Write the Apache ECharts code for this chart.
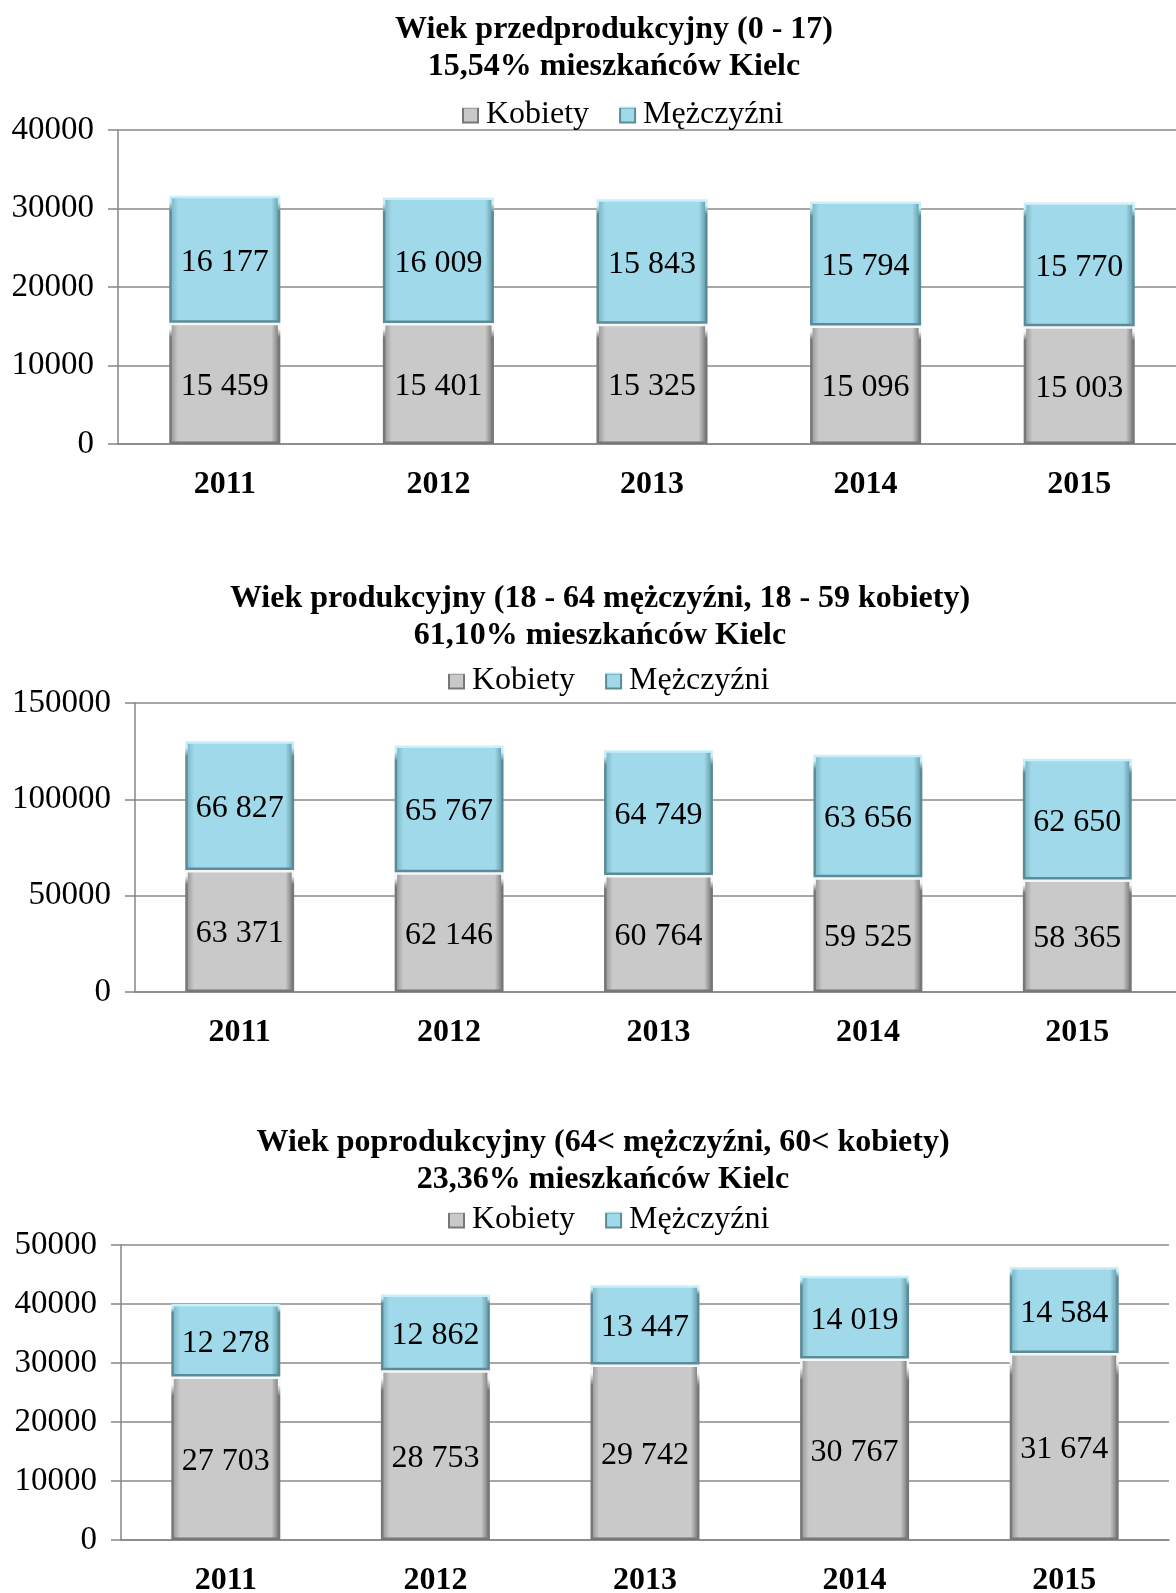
<!DOCTYPE html>
<html>
<head>
<meta charset="utf-8">
<script src="https://cdn.jsdelivr.net/npm/echarts@6/dist/echarts.min.js"></script>
<style>
  html, body { margin: 0; padding: 0; background: #fff; overflow: hidden; }
  #chart { width: 1200px; height: 1593px; }
</style>
</head>
<body>
<div id="chart"></div>
<script>
const years = ['2011', '2012', '2013', '2014', '2015'];

// wiek przedprodukcyjny
const preKobiety = [15459, 15401, 15325, 15096, 15003];
const preMezczyzni = [16177, 16009, 15843, 15794, 15770];
// wiek produkcyjny
const prodKobiety = [63371, 62146, 60764, 59525, 58365];
const prodMezczyzni = [66827, 65767, 64749, 63656, 62650];
// wiek poprodukcyjny
const postKobiety = [27703, 28753, 29742, 30767, 31674];
const postMezczyzni = [12278, 12862, 13447, 14019, 14584];

const titles = [
  ['Wiek przedprodukcyjny (0 - 17)', '15,54% mieszkańców Kielc'],
  ['Wiek produkcyjny (18 - 64 mężczyźni, 18 - 59 kobiety)', '61,10% mieszkańców Kielc'],
  ['Wiek poprodukcyjny (64< mężczyźni, 60< kobiety)', '23,36% mieszkańców Kielc'],
];
const yMax = [40000, 150000, 50000];
const yStep = [10000, 50000, 10000];

const FONT = '"Liberation Serif", "Times New Roman", serif';

// layout of the three panels (plot areas run past the right page edge)
const grids = [
  { left: 118, top: 130, width: 1068, height: 314, outerBoundsMode: 'none' },
  { left: 135, top: 703, width: 1047, height: 289, outerBoundsMode: 'none' },
  { left: 121, top: 1245, width: 1048, height: 295, outerBoundsMode: 'none' },
];
const titleX = [614, 600, 603];
const titleY = [[30, 67], [599, 636], [1143, 1180]];
const legendLeft = [457, 443, 443];
const legendY = [94, 660, 1199];

const grad = (edgeL, mid, edgeR) => new echarts.graphic.LinearGradient(0, 0, 1, 0, [
  { offset: 0, color: edgeL },
  { offset: 0.08, color: mid },
  { offset: 0.92, color: mid },
  { offset: 1, color: edgeR },
]);
const borderGrad = (top, bottom) => new echarts.graphic.LinearGradient(0, 0, 0, 1, [
  { offset: 0, color: top },
  { offset: 0.05, color: top },
  { offset: 0.12, color: bottom },
  { offset: 1, color: bottom },
]);

const grayStyle = {
  color: grad('#8d8d8d', '#c9c9c9', '#6a6a6a'),
  borderColor: borderGrad('#f6f6f6', '#777777'),
  borderWidth: 2.5,
};
const blueStyle = {
  color: grad('#74aebd', '#a0d9e9', '#5a8f9c'),
  borderColor: borderGrad('#c8eff9', '#5a8c98'),
  borderWidth: 2.5,
};

const fmt = (v) => String(v).replace(/\B(?=(\d{3})+(?!\d))/g, ' ');

const datasets = [
  [preKobiety, preMezczyzni],
  [prodKobiety, prodMezczyzni],
  [postKobiety, postMezczyzni],
];

const barLabel = {
  show: true, position: 'inside', offset: [0, 3],
  fontFamily: FONT, fontSize: 32, color: '#000',
  formatter: (p) => fmt(p.value),
};

const option = {
  animation: false,
  backgroundColor: '#fff',
  textStyle: { fontFamily: FONT, color: '#000' },
  grid: grids,
  xAxis: grids.map((g, i) => ({
    type: 'category',
    gridIndex: i,
    data: years,
    axisLine: { lineStyle: { color: '#868686', width: 1.5 } },
    axisTick: { show: false },
    axisLabel: {
      fontFamily: FONT, fontSize: 32, fontWeight: 'bold', color: '#000', margin: 25,
    },
  })),
  yAxis: grids.map((g, i) => ({
    type: 'value',
    gridIndex: i,
    min: 0,
    max: yMax[i],
    interval: yStep[i],
    axisLine: { show: true, lineStyle: { color: '#868686', width: 1.5 } },
    axisTick: { show: true, length: 10, lineStyle: { color: '#868686', width: 1.5 } },
    splitLine: { lineStyle: { color: '#8a8a8a', width: 1.5 } },
    axisLabel: {
      fontFamily: FONT, fontSize: 33, color: '#000', margin: 24,
      formatter: (v) => String(v),
    },
  })),
  legend: grids.map((g, i) => ({
    left: legendLeft[i],
    top: legendY[i],
    data: ['Kobiety', 'Mężczyźni'],
    itemWidth: 15,
    itemHeight: 15,
    itemGap: 30,
    icon: 'rect',
    textStyle: { fontFamily: FONT, fontSize: 32, color: '#000', padding: [0, 0, 0, 3] },
  })),
  graphic: titles.flatMap((t, i) => t.map((line, j) => ({
    type: 'text',
    x: titleX[i],
    y: titleY[i][j],
    style: {
      text: line,
      font: 'bold 32px ' + FONT,
      fill: '#000',
      align: 'center',
      verticalAlign: 'middle',
    },
  }))),
  series: datasets.flatMap((d, i) => [
    {
      name: 'Kobiety',
      type: 'bar',
      stack: 's' + i,
      xAxisIndex: i,
      yAxisIndex: i,
      barWidth: '52%',
      data: d[0],
      itemStyle: grayStyle,
      label: barLabel,
    },
    {
      name: 'Mężczyźni',
      type: 'bar',
      stack: 's' + i,
      xAxisIndex: i,
      yAxisIndex: i,
      barWidth: '52%',
      data: d[1],
      itemStyle: blueStyle,
      label: barLabel,
    },
  ]),
};

const chart = echarts.init(document.getElementById('chart'));
chart.setOption(option);
</script>
</body>
</html>
